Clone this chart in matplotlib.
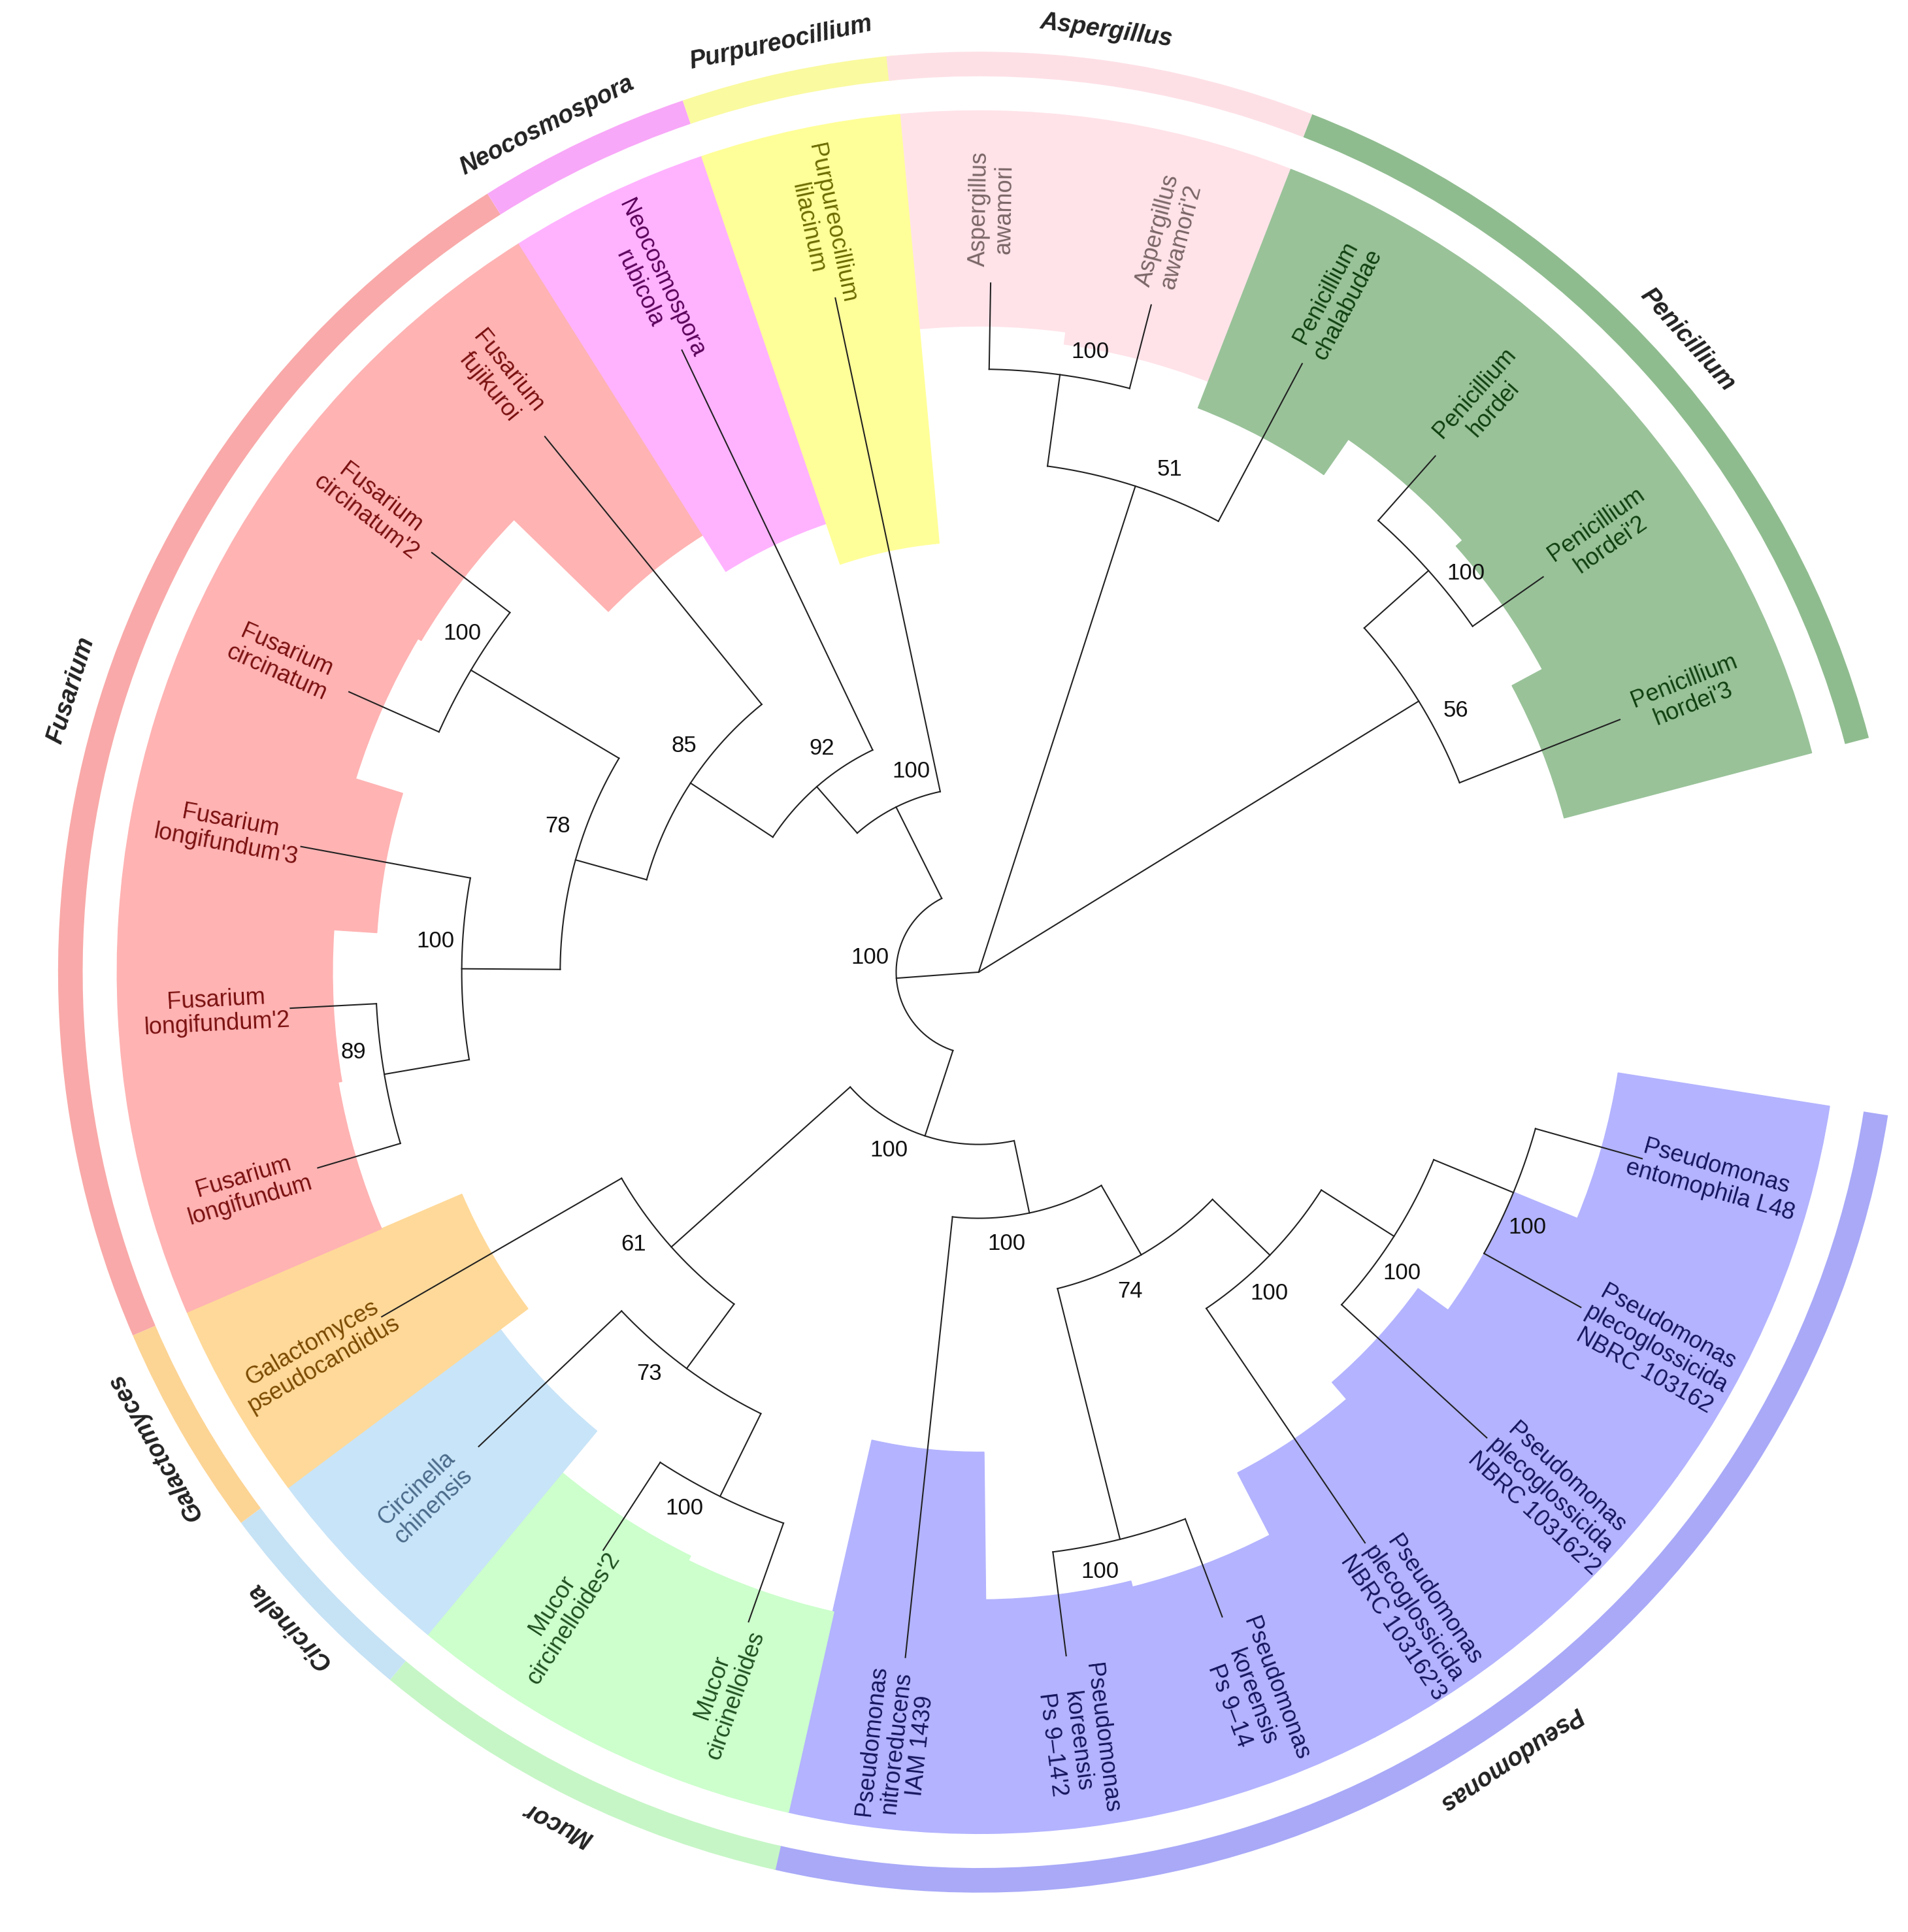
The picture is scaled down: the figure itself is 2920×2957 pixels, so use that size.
import numpy as np
import matplotlib
matplotlib.use("Agg")
import matplotlib.pyplot as plt
from matplotlib.patches import Wedge

plt.rcParams['font.family'] = ['Liberation Sans', 'DejaVu Sans']

leaf_names = ["Aspergillus\nawamori", "Aspergillus\nawamori'2", "Penicillium\nchalabudae",
              "Penicillium\nhordei", "Penicillium\nhordei'2", "Penicillium\nhordei'3",
              "Pseudomonas\nentomophila L48", "Pseudomonas\nplecoglossicida\nNBRC 103162",
              "Pseudomonas\nplecoglossicida\nNBRC 103162'2", "Pseudomonas\nplecoglossicida\nNBRC 103162'3",
              "Pseudomonas\nkoreensis\nPs 9–14", "Pseudomonas\nkoreensis\nPs 9–14'2",
              "Pseudomonas\nnitroreducens\nIAM 1439", "Mucor\ncircinelloides", "Mucor\ncircinelloides'2",
              "Circinella\nchinensis", "Galactomyces\npseudocandidus", "Fusarium\nlongifundum",
              "Fusarium\nlongifundum'2", "Fusarium\nlongifundum'3", "Fusarium\ncircinatum",
              "Fusarium\ncircinatum'2", "Fusarium\nfujikuroi", "Neocosmospora\nrubicola",
              "Purpureocillium\nlilacinum"]
leaf_angles = [89, 75.5, 62, 48.5, 35, 21.5,
               -15.7, -29.1, -42.5, -55.9, -69.3, -82.7, -96.1,
               -109.5, -123, -136.5, -150, -163.5, -177, -190.5, -204, -217.5, -231, -244.5, -258]
leaf_inner = [525, 515, 492, 527, 520, 492, 526, 470, 440, 458, 515, 510, 390,
              533, 529, 485, 457, 528, 525, 490, 530, 527, 420, 385, 350]
leaf_group = [3, 3, 4, 4, 4, 4, 5, 5, 5, 5, 5, 5, 5, 6, 6, 7, 8, 0, 0, 0, 0, 0, 0, 1, 2]

group_names = ["Fusarium", "Neocosmospora", "Purpureocillium", "Aspergillus", "Penicillium",
               "Pseudomonas", "Mucor", "Circinella", "Galactomyces"]
group_fill = ["#ffb3b3", "#ffb3ff", "#ffff99", "#ffe3e9", "#99c299", "#b3b3ff", "#ccffcc", "#c8e4f8", "#ffd999"]
group_ring = ["#f9a9a9", "#f8a8f8", "#fafaa0", "#fde0e6", "#8fbc8f", "#a9a9f8", "#c6f6c6", "#c6e2f5", "#fcd494"]
group_text = ["#7a1010", "#5a005a", "#6b6b00", "#7a6666", "#0f3f0f", "#15155e", "#1f4f1f", "#4a6a8a", "#7a4a00"]

# tree: (radius, support, children); ints are leaves
tree = (0, "", [
    (415, "51", [(490, "100", [0, 1]), 2]),
    (420, "56", [(490, "100", [3, 4]), 5]),
    (67, "100", [
        (140, "100", [
            (335, "61", [16, (400, "73", [15, (475, "100", [13, 14])])]),
            (200, "100", [12, (265, "74", [(475, "100", [10, 11]),
                                          (330, "100", [9, (400, "100", [8, (470, "100", [6, 7])])])])])]),
        (150, "100", [24, (200, "92", [23, (280, "85", [22, (340, "78", [
            (480, "100", [20, 21]), (420, "100", [19, (490, "89", [17, 18])])])])])])])])

LEAF_R = 560
R_OUT = 700

fig = plt.figure(figsize=(29.2, 29.57), dpi=100)
ax = fig.add_axes([0, 0, 1, 1])
ax.set_xlim(-795, 755)
ax.set_ylim(-780, 790)
ax.set_aspect("equal")
ax.axis("off")

def pol(r, a):
    t = np.deg2rad(a)
    return r * np.cos(t), r * np.sin(t)

for i, a in enumerate(leaf_angles):
    g = leaf_group[i]
    w = Wedge((0, 0), R_OUT, a - 6.75, a + 6.75, width=R_OUT - leaf_inner[i],
              facecolor=group_fill[g], edgecolor=group_fill[g], lw=1, zorder=1)
    ax.add_patch(w)

for g, name in enumerate(group_names):
    idx = [i for i in range(len(leaf_angles)) if leaf_group[i] == g]
    a1 = min(leaf_angles[i] for i in idx) - 6.75
    a2 = max(leaf_angles[i] for i in idx) + 6.75
    ax.add_patch(Wedge((0, 0), 748, a1, a2, width=20, facecolor=group_ring[g], edgecolor="none", zorder=1))
    m = (a1 + a2) / 2
    if name == "Neocosmospora":
        m += 1.5
    x, y = pol(772, m)
    ax.text(x, y, name, rotation=(m - 90) % 360, ha="center", va="center",
            fontsize=27, fontweight="bold", style="italic", color="#222222", rotation_mode="anchor")

LW = 1.5
def draw(node, parent_r):
    if isinstance(node, int):
        a = leaf_angles[node]
        x0, y0 = pol(parent_r, a); x1, y1 = pol(LEAF_R, a)
        ax.plot([x0, x1], [y0, y1], color="#222222", lw=LW, zorder=3)
        return a
    r, sup, ch = node
    angs = [draw(c, r) for c in ch]
    lo, hi = min(angs), max(angs)
    mid = (angs[0] + angs[-1]) / 2
    if r > 0:
        t = np.linspace(lo, hi, 200)
        xs, ys = pol(r, t)
        ax.plot(xs, ys, color="#222222", lw=LW, zorder=3)
        x0, y0 = pol(parent_r, mid); x1, y1 = pol(r, mid)
        ax.plot([x0, x1], [y0, y1], color="#222222", lw=LW, zorder=3)
        tx, ty = pol(r + 22, mid - 4 * 300 / max(r, 100))
        ax.text(tx, ty, sup, fontsize=25, ha="center", va="center", color="#111111", zorder=4)
    return mid

draw(tree, 0)

for i, a in enumerate(leaf_angles):
    g = leaf_group[i]
    n_lines = leaf_names[i].count("\n") + 1
    rr = 620 if n_lines == 2 else 630
    x, y = pol(rr, a)
    an = (a + 180) % 360 - 180
    rot = an if abs(an) <= 90 else an + 180
    ax.text(x, y, leaf_names[i], rotation=rot, ha="center", va="center", rotation_mode="anchor",
            fontsize=26, color=group_text[g], linespacing=1.1, zorder=5)

fig.savefig("out.png", dpi=100, facecolor="white")
